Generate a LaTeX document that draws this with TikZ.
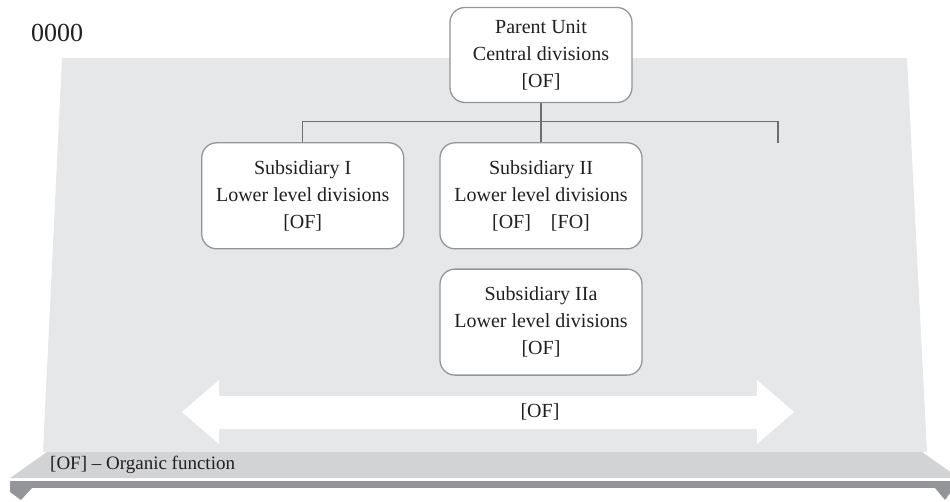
\documentclass[tikz,border=0pt]{standalone}
\usepackage{fontspec}
\setmainfont{Liberation Serif}
\usepackage{xcolor}
\usetikzlibrary{positioning}

\definecolor{panelgray}{HTML}{E6E7E8}
\definecolor{shelfgray}{HTML}{D1D3D4}
\definecolor{railgray}{HTML}{939598}
\definecolor{linegray}{HTML}{6D6E71}
\definecolor{inkgray}{HTML}{231F20}

\tikzset{
    unitbox/.style={draw=railgray, line width=1.3pt, fill=white, rounded corners=15pt,
        minimum width=202pt, minimum height=106pt, align=center, inner sep=0pt,
        text=inkgray, font=\fontsize{20}{27}\selectfont},
    orgline/.style={draw=linegray, line width=1.3pt},
}

\begin{document}
\begin{tikzpicture}[x=1pt,y=-1pt]
            \useasboundingbox (0,0) rectangle (950,501);

            % background panel and shelf
            \begin{scope}
                \clip (0,0) rectangle (950,501);
                \path [fill=panelgray] (62,58) -- (907,58) -- (927,452) -- (43,452) -- cycle;
                \path [fill=shelfgray] (47,452) -- (922,452) -- (959,478) -- (10,478) -- cycle;
                \path [fill=railgray] (10,481) rectangle (950,488);
                \path [fill=railgray] (10,488) -- (10,492) -- (21,500) -- (32,488) -- cycle;
                \path [fill=railgray] (935,488) -- (945,500) -- (950,493) -- (950,488) -- cycle;
            \end{scope}

            \node[text=inkgray, font=\fontsize{26}{30}\selectfont] (pagenum) at (57,33) {0000};
            \node[text=inkgray, font=\fontsize{19}{23}\selectfont, anchor=west, inner sep=0pt] (legend) at (50,465) {[OF] – Organic function};

            % wide double arrow
            \path [fill=white] (182,412) -- (219,380) -- (219,396) -- (757,396) -- (757,380) -- (794,412)
                -- (757,444) -- (757,429) -- (219,429) -- (219,444) -- cycle;
            \node[text=inkgray, font=\fontsize{20}{24}\selectfont] (flowlabel) at (540,412) {[OF]};

            % units
            \node[unitbox, minimum width=182pt, minimum height=95pt] (parent) at (541,55) {Parent Unit\\Central divisions\\{[OF]}};
            \node[unitbox, below=39pt of parent.south, anchor=north] (subII) {Subsidiary II\\Lower level divisions\\{[OF]\quad[FO]}};
            \node[unitbox, left=35pt of subII] (subI) {Subsidiary I\\Lower level divisions\\{[OF]}};
            \node[unitbox, below=19pt of subII] (subIIa) {Subsidiary IIa\\Lower level divisions\\{[OF]}};

            \coordinate (junction) at ([yshift=-18pt]parent.south);
            \coordinate (spare) at (778,143);

            \draw[orgline] (parent.south) -- (junction);
            \draw[orgline] (junction) -| (subI.north);
            \draw[orgline] (junction) -- (subII.north);
            \draw[orgline] (junction) -| (spare);
        \end{tikzpicture}
\end{document}
